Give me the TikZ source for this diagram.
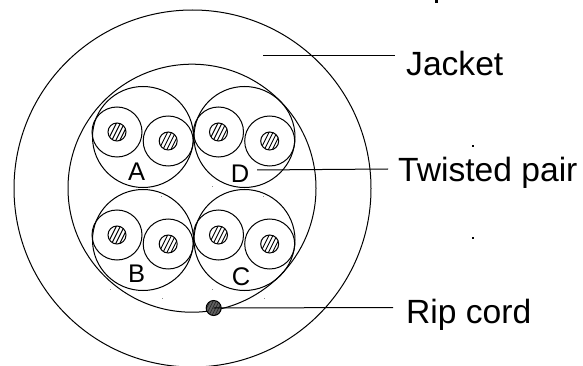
\documentclass[tikz,border=0pt]{standalone}
\usepackage{fontspec}
\setmainfont{Liberation Sans}
\tikzset{
  x=1pt,y=-1pt,
  ring/.style={draw=black,line width=1pt,circle,inner sep=0pt,minimum size=#1},
  core/.style={ring=18pt,path picture={
    \foreach \k in {-12,-8,...,12}
      \draw[line width=0.9pt] ([xshift=\k pt,yshift=-14pt]path picture bounding box.center) -- ++(14pt,28pt);
  }},
  cordstyle/.style={ring=15pt,fill=black!62,path picture={
    \foreach \k in {-15,-12,...,15}
      \draw[line width=0.6pt,black!85] ([xshift=\k pt,yshift=-10pt]path picture bounding box.center) -- ++(10pt,20pt);
  }},
  leader/.style={line width=1pt},
  biglabel/.style={font=\fontsize{33.6}{36}\selectfont,anchor=base west,inner sep=0pt},
  letter/.style={font=\fontsize{25.5}{28}\selectfont,anchor=base,inner sep=0pt},
  speck/.style={fill=black!45,draw=none,minimum size=1pt,inner sep=0pt,rectangle},
  blackspeck/.style={fill=black,draw=none,minimum size=2pt,inner sep=0pt,rectangle},
}
\begin{document}
\begin{tikzpicture}
\useasboundingbox (0,0) rectangle (583,366);
\clip (0,0) rectangle (583,366);
% jacket and inner sheath
\node[ring=357pt] (outer) at (192.5,188.5) {};
\node[ring=248pt] (inner) at (192,188.2) {};
% groups
\foreach \n/\cx/\cy in {A/143/137,D/244.5/137,B/143/240,C/244.5/240}{
  \node[ring=101pt] (g\n) at (\cx,\cy) {};
  \node[ring=50pt] (l\n) at (\cx-26,\cy-5) {};
  \node[ring=50pt] (r\n) at (\cx+25.2,\cy+4) {};
  \node[core] (lc\n) at (\cx-26,\cy-5) {};
  \node[core] (rc\n) at (\cx+25.2,\cy+4) {};
}
\node[letter] (la) at (136.7,181) {A};
\node[letter] (ld) at (240,182.7) {D};
\node[letter] (lb) at (136.7,282.7) {B};
\node[letter] (lc) at (241,285.7) {C};
% rip cord
\node[cordstyle] (cord) at (213.7,308) {};
% labels
\node[biglabel] (jacket) at (406,76) {Jacket};
\node[biglabel] (pair) at (398,181.7) {Twisted pair};
\node[biglabel] (rip) at (406,323) {Rip cord};
% leaders
\coordinate (jfrom) at (263,56);
\coordinate (jto) at (395,56);
\coordinate (pfrom) at (257,170);
\coordinate (pto) at (388,169);
\coordinate (rto) at (393,307.5);
\draw[leader] (jfrom) -- (jto);
\draw[leader] (pfrom) -- (pto);
\draw[leader] (cord.center) -- (rto);
% fragment of cropped text at the top edge
\fill (435,0) rectangle (438,3);
% stray specks
\foreach \i/\px/\py in {1/212.7/186.7,2/161.7/196,3/263.3/196,4/110.7/289.3,5/212.7/289.3,6/162/298,7/264/298}
  \node[speck] (s\i) at (\px,\py) {};
\node[blackspeck] (b1) at (472.7,146) {};
\node[blackspeck] (b2) at (472.7,237.7) {};
\end{tikzpicture}
\end{document}
